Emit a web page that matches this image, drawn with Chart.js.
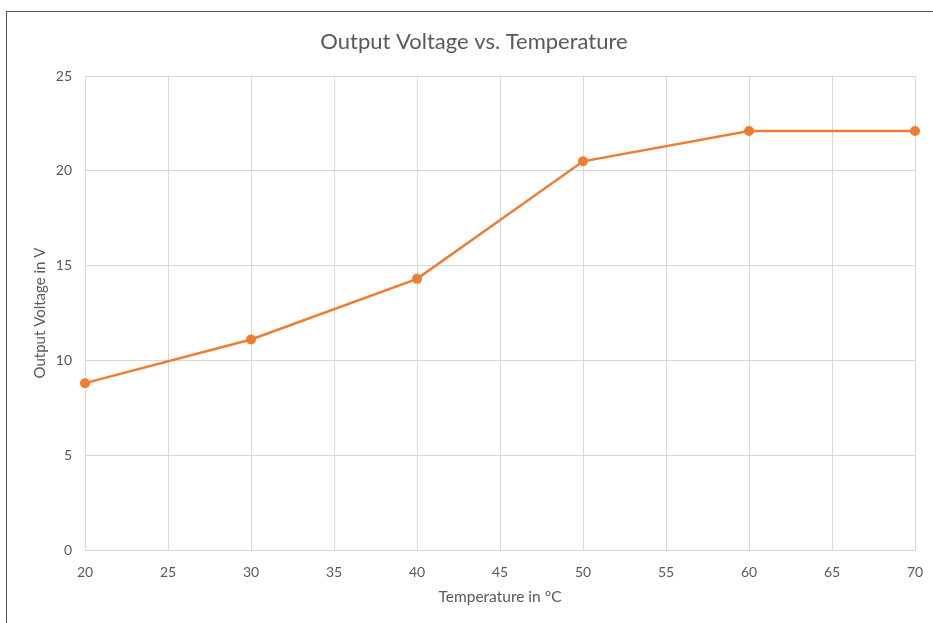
<!DOCTYPE html>
<html><head><meta charset="utf-8">
<script src="https://cdn.jsdelivr.net/npm/chart.js@4/dist/chart.umd.min.js"></script>
<style>
html,body{margin:0;padding:0;background:#fff;overflow:hidden;width:933px;height:623px;}
#frame{position:absolute;left:6px;top:11px;width:940px;height:620px;border-left:1.5px solid #595959;border-top:1.5px solid #595959;}
#wrap{position:absolute;left:7px;top:12px;width:936px;height:611px;}
</style></head>
<body>
<div id="frame"></div>
<div id="wrap"><canvas id="c" width="936" height="611"></canvas></div>
<script>
const temperatures = [20, 30, 40, 50, 60, 70];
const voltages = [8.8, 11.1, 14.3, 20.5, 22.1, 22.1];
const xTicks = [20, 25, 30, 35, 40, 45, 50, 55, 60, 65, 70];
const yTicks = [0, 5, 10, 15, 20, 25];
const chartTitle = 'Output Voltage vs. Temperature';

const FONT = 'Lato, "Open Sans", sans-serif';
const TXT = '#595959';
const GRID = '#d9d9d9';
const ORANGE = '#ED7D31';

const titlePlugin = {
  id: 'centeredTitle',
  afterDraw(chart) {
    const ctx = chart.ctx;
    ctx.save();
    ctx.font = '22px ' + FONT;
    ctx.fillStyle = TXT;
    ctx.textAlign = 'center';
    ctx.textBaseline = 'middle';
    ctx.fillText(chartTitle, 467, 30);
    ctx.restore();
  }
};

new Chart(document.getElementById('c'), {
  type: 'line',
  data: {
    datasets: [{
      data: temperatures.map((t, i) => ({x: t, y: voltages[i]})),
      borderColor: ORANGE,
      backgroundColor: ORANGE,
      borderWidth: 2.5,
      pointRadius: 5,
      pointBackgroundColor: ORANGE,
      pointBorderColor: ORANGE,
      pointBorderWidth: 0,
      tension: 0,
      clip: false
    }]
  },
  plugins: [titlePlugin],
  options: {
    responsive: false,
    animation: false,
    layout: {padding: {left: 0, right: 28, top: 64, bottom: 0}},
    plugins: {
      legend: {display: false},
      tooltip: {enabled: false},
      title: {display: false}
    },
    scales: {
      x: {
        type: 'linear',
        min: 20, max: 70,
        afterBuildTicks: s => { s.ticks = xTicks.map(v => ({value: v})); },
        afterFit: s => { s.height = 73; },
        grid: {color: GRID, lineWidth: 1, drawTicks: false},
        border: {color: GRID, width: 1},
        ticks: {color: TXT, padding: 14, maxRotation: 0, font: {family: FONT, size: 14}},
        title: {display: true, text: 'Temperature in °C', color: TXT,
                font: {family: FONT, size: 15.5, lineHeight: 1.2}, padding: {top: 0, bottom: 17}}
      },
      y: {
        type: 'linear',
        min: 0, max: 25,
        afterBuildTicks: s => { s.ticks = yTicks.map(v => ({value: v})); },
        afterFit: s => { s.width = 78; },
        grid: {color: GRID, lineWidth: 1, drawTicks: false},
        border: {color: GRID, width: 1},
        ticks: {color: TXT, padding: 13, font: {family: FONT, size: 14}},
        title: {display: true, text: 'Output Voltage in V', color: TXT,
                font: {family: FONT, size: 15, lineHeight: 1.2}, padding: {top: 24, bottom: 0}}
      }
    }
  }
});
</script>
</body></html>
